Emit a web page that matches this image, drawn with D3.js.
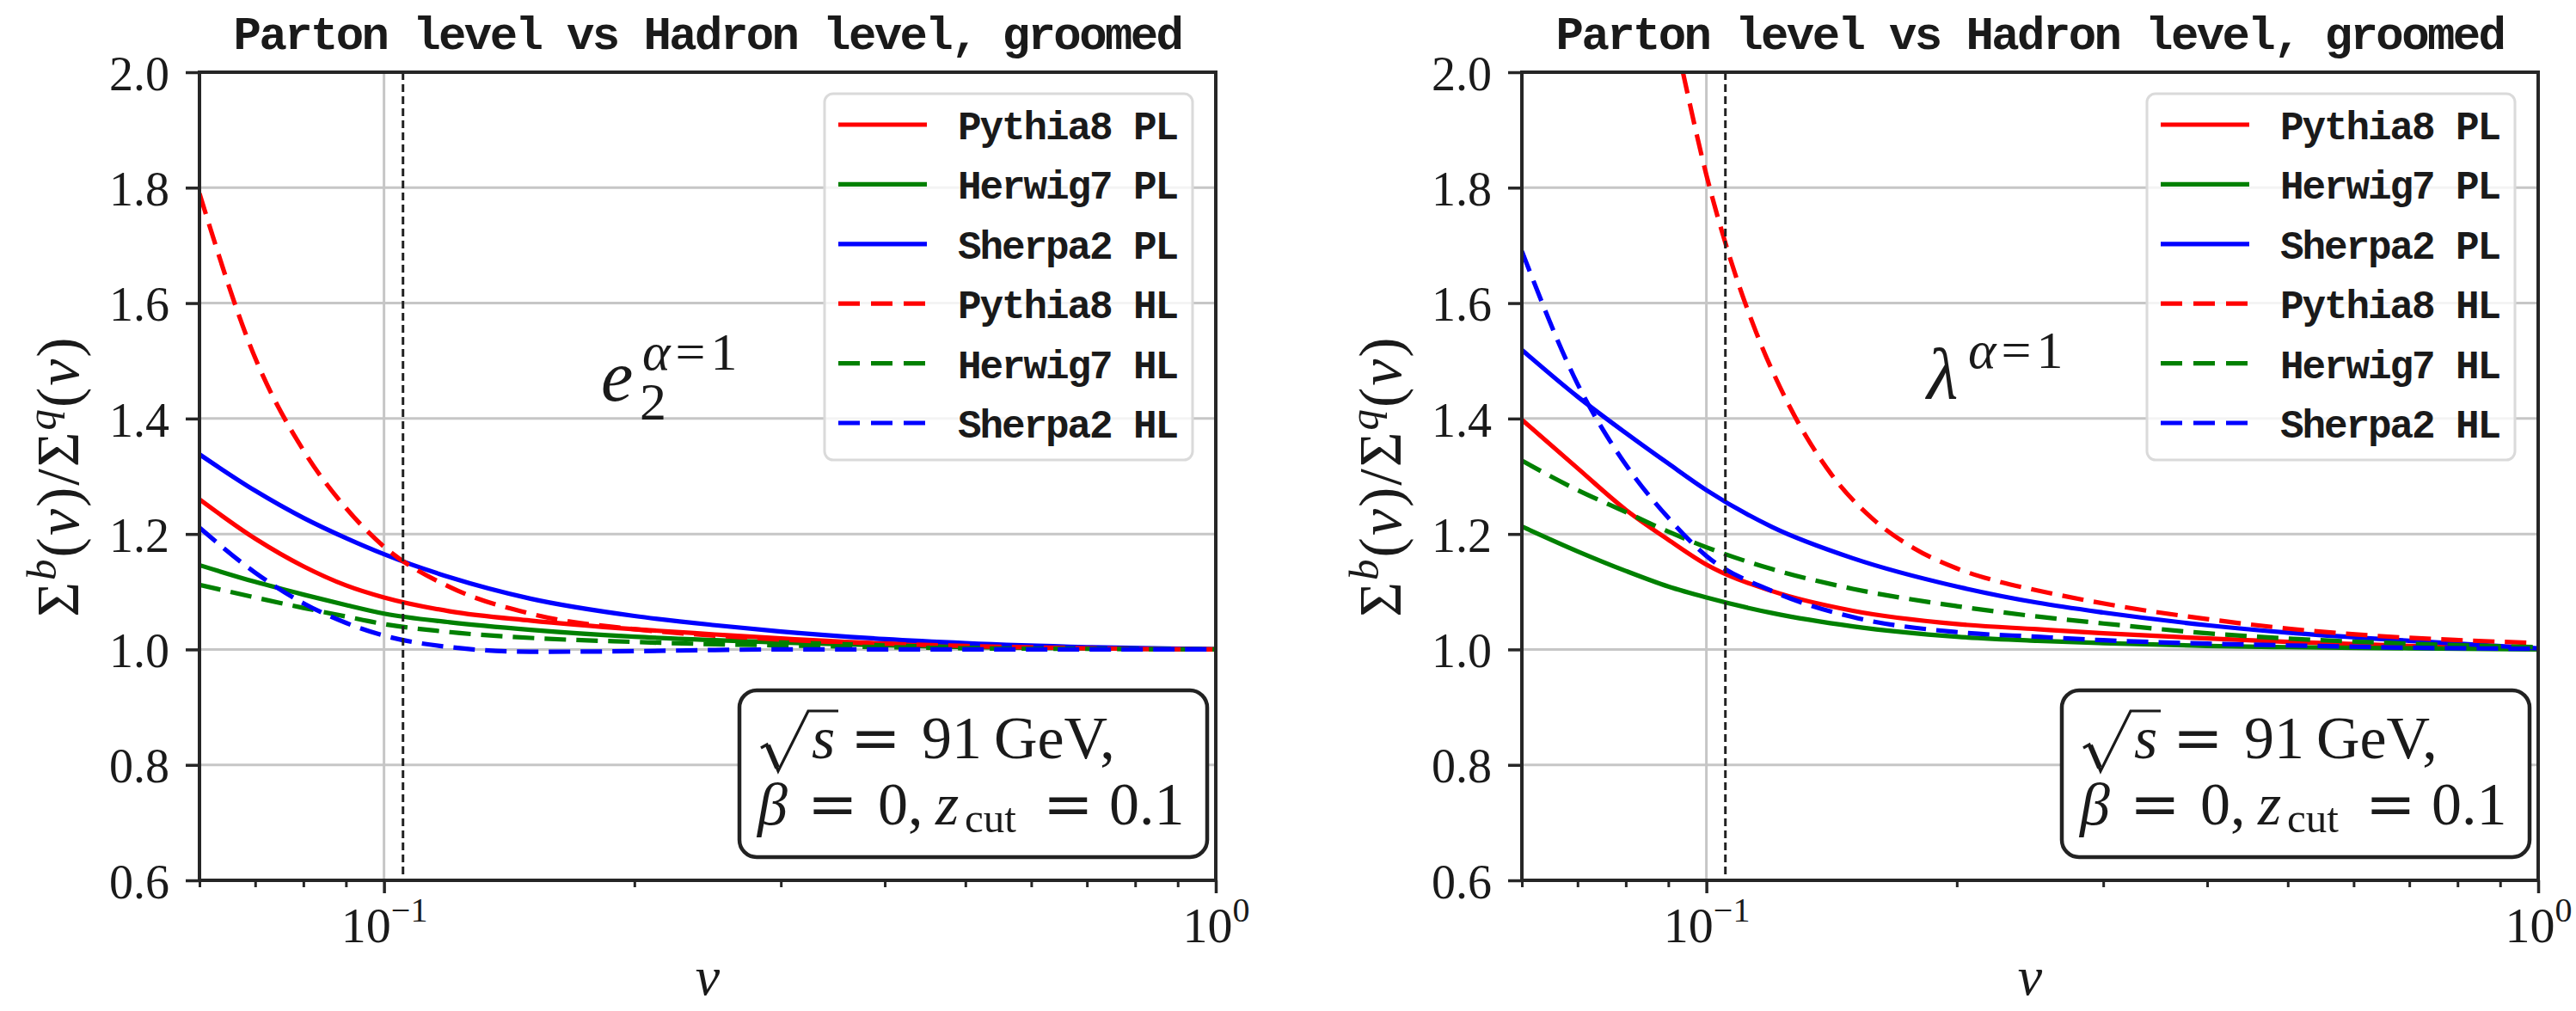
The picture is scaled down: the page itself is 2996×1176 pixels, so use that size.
<!DOCTYPE html>
<html>
<head>
<meta charset="utf-8">
<title>Parton level vs Hadron level, groomed</title>
<script src="https://cdn.jsdelivr.net/npm/d3@7/dist/d3.min.js"></script>
<style>
  html, body { margin: 0; padding: 0; background: #ffffff; }
  svg { display: block; }
</style>
</head>
<body>
<svg id="fig" width="2996" height="1176"></svg>
<script>
// ---- data -------------------------------------------------------------
// sample points in v shared by most curves
const vSamples = [0.06, 0.07, 0.08, 0.09, 0.1, 0.12, 0.15, 0.2, 0.25, 0.3, 0.4, 0.5, 0.7, 1.0];

// e2^(alpha=1): ratio Sigma^b(v) / Sigma^q(v)
const e2Pythia8PL = [1.260, 1.192, 1.144, 1.111, 1.090, 1.066, 1.050, 1.035, 1.026, 1.019, 1.010, 1.006, 1.002, 1.000];
const e2Herwig7PL = [1.146, 1.117, 1.095, 1.077, 1.062, 1.047, 1.034, 1.022, 1.016, 1.012, 1.007, 1.004, 1.002, 1.000];
const e2Sherpa2PL = [1.338, 1.275, 1.228, 1.193, 1.165, 1.125, 1.088, 1.058, 1.042, 1.031, 1.018, 1.011, 1.004, 1.000];
const e2Pythia8HL = [1.790, 1.505, 1.345, 1.245, 1.178, 1.108, 1.062, 1.035, 1.024, 1.017, 1.010, 1.006, 1.002, 1.000];
const e2Herwig7HL = [1.112, 1.090, 1.072, 1.057, 1.044, 1.030, 1.020, 1.013, 1.009, 1.007, 1.004, 1.002, 1.001, 1.000];
const e2Sherpa2HL = [1.211, 1.133, 1.080, 1.046, 1.024, 1.004, 0.996, 0.997, 0.999, 1.000, 1.000, 1.000, 1.000, 1.000];

// lambda^(alpha=1)
const lamPythia8PL = [1.398, 1.314, 1.242, 1.190, 1.147, 1.101, 1.067, 1.044, 1.035, 1.028, 1.019, 1.013, 1.006, 1.001];
const lamHerwig7PL = [1.213, 1.170, 1.136, 1.109, 1.090, 1.063, 1.040, 1.022, 1.015, 1.011, 1.006, 1.004, 1.002, 1.000];
const lamSherpa2PL = [1.519, 1.438, 1.375, 1.322, 1.276, 1.212, 1.158, 1.109, 1.081, 1.064, 1.042, 1.029, 1.015, 1.002];
const lamPythia8HLv = [0.0937, 0.1, 0.1072, 0.1148, 0.1259, 0.1413, 0.1585, 0.1778, 0.1995, 0.2239, 0.2512, 0.3162, 0.3981, 0.5012, 0.631, 0.7943, 1.0];
const lamPythia8HL  = [2.000, 1.822, 1.670, 1.549, 1.421, 1.3035, 1.226, 1.175, 1.141, 1.118, 1.1015, 1.074, 1.053, 1.036, 1.024, 1.0165, 1.011];
const lamHerwig7HL = [1.327, 1.276, 1.238, 1.204, 1.177, 1.139, 1.105, 1.075, 1.057, 1.045, 1.028, 1.019, 1.010, 1.004];
const lamSherpa2HL = [1.690, 1.460, 1.320, 1.228, 1.162, 1.101, 1.056, 1.030, 1.022, 1.016, 1.010, 1.007, 1.003, 1.001];

const seriesNames  = ["Pythia8 PL", "Herwig7 PL", "Sherpa2 PL", "Pythia8 HL", "Herwig7 HL", "Sherpa2 HL"];
const seriesColors = ["#ff0000", "#008000", "#0000ff", "#ff0000", "#008000", "#0000ff"];
const seriesDashed = [false, false, false, true, true, true];

const yTicks      = [0.6, 0.8, 1.0, 1.2, 1.4, 1.6, 1.8, 2.0];
const xMajorTicks = [0.1, 1];
const xMinorTicks = [0.06, 0.07, 0.08, 0.09, 0.2, 0.3, 0.4, 0.5, 0.6, 0.7, 0.8, 0.9];
const xDomain = [0.06, 1];
const yDomain = [0.6, 2.0];
const vCutLine = 0.1054;
const titleText = "Parton level vs Hadron level, groomed";

// ---- layout ---------------------------------------------------------------
const plotTop = 84, plotBottom = 1024;
const SERIF = '"Liberation Serif", "Times New Roman", serif';
const MONO = '"Liberation Mono", "Courier New", monospace';
const EQ = '"DejaVu Serif", serif';
const ink = "#1a1a1a";

const panels = [
  {
    key: "e2", x0: 232, x1: 1414, obs: "e",
    curves: [
      { v: vSamples, y: e2Pythia8PL }, { v: vSamples, y: e2Herwig7PL }, { v: vSamples, y: e2Sherpa2PL },
      { v: vSamples, y: e2Pythia8HL }, { v: vSamples, y: e2Herwig7HL }, { v: vSamples, y: e2Sherpa2HL }
    ]
  },
  {
    key: "lam", x0: 1770, x1: 2952, obs: "\u03BB",
    curves: [
      { v: vSamples, y: lamPythia8PL }, { v: vSamples, y: lamHerwig7PL }, { v: vSamples, y: lamSherpa2PL },
      { v: lamPythia8HLv, y: lamPythia8HL }, { v: vSamples, y: lamHerwig7HL }, { v: vSamples, y: lamSherpa2HL }
    ]
  }
];

const svg = d3.select("#fig");
const defs = svg.append("defs");

function serifText(sel, size) {
  return sel.style("font-family", SERIF).attr("font-size", size).attr("fill", ink);
}

panels.forEach(p => {
  const x = d3.scaleLog().domain(xDomain).range([p.x0, p.x1]);
  const y = d3.scaleLinear().domain(yDomain).range([plotBottom, plotTop]);
  const g = svg.append("g").attr("class", "panel-" + p.key);
  const cx = (p.x0 + p.x1) / 2;

  const clipId = "clip-" + p.key;
  defs.append("clipPath").attr("id", clipId)
    .append("rect")
    .attr("x", p.x0).attr("y", plotTop)
    .attr("width", p.x1 - p.x0).attr("height", plotBottom - plotTop);

  // grid
  g.append("g").selectAll("line").data(yTicks).join("line")
    .attr("x1", p.x0).attr("x2", p.x1)
    .attr("y1", d => y(d)).attr("y2", d => y(d))
    .attr("stroke", "#c6c6c6").attr("stroke-width", 3);
  g.append("g").selectAll("line").data(xMajorTicks).join("line")
    .attr("x1", d => x(d)).attr("x2", d => x(d))
    .attr("y1", plotTop).attr("y2", plotBottom)
    .attr("stroke", "#c6c6c6").attr("stroke-width", 3);

  // curves
  const line = d3.line().x(d => x(d[0])).y(d => y(d[1])).curve(d3.curveMonotoneX);
  const curveG = g.append("g").attr("clip-path", `url(#${clipId})`);
  p.curves.forEach((c, i) => {
    curveG.append("path")
      .datum(c.v.map((v, j) => [v, c.y[j]]))
      .attr("d", line)
      .attr("fill", "none")
      .attr("stroke", seriesColors[i])
      .attr("stroke-width", 5.2)
      .attr("stroke-dasharray", seriesDashed[i] ? "25,12" : null);
  });

  // grooming transition marker
  g.append("line")
    .attr("x1", x(vCutLine)).attr("x2", x(vCutLine))
    .attr("y1", plotTop).attr("y2", plotBottom)
    .attr("stroke", "#222").attr("stroke-width", 3)
    .attr("stroke-dasharray", "9,5");

  // frame
  g.append("rect")
    .attr("x", p.x0).attr("y", plotTop)
    .attr("width", p.x1 - p.x0).attr("height", plotBottom - plotTop)
    .attr("fill", "none").attr("stroke", "#262626").attr("stroke-width", 4);

  // y axis
  const yAxis = d3.axisLeft(y).tickValues(yTicks).tickFormat(d3.format(".1f")).tickSize(16).tickPadding(19);
  const yg = g.append("g").attr("transform", `translate(${p.x0},0)`).call(yAxis);
  yg.select(".domain").remove();
  yg.selectAll(".tick line").attr("stroke", "#262626").attr("stroke-width", 3.5);
  serifText(yg.selectAll(".tick text"), 56).attr("dy", "0.36em");

  // x axis: major ticks with 10^n labels
  const xAxis = d3.axisBottom(x).tickValues(xMajorTicks).tickSize(15);
  const xg = g.append("g").attr("transform", `translate(0,${plotBottom})`).call(xAxis);
  xg.select(".domain").remove();
  xg.selectAll(".tick line").attr("stroke", "#262626").attr("stroke-width", 3.5);
  xg.selectAll(".tick text").each(function (d) {
    const t = d3.select(this);
    const e = Math.round(Math.log10(d));
    t.text(null).attr("y", 72).attr("dy", null);
    serifText(t, 58);
    t.append("tspan").text("10");
    t.append("tspan").attr("font-size", 40).attr("dy", -24).text(e < 0 ? "\u2212" + (-e) : String(e));
  });
  // minor ticks
  const xMinor = d3.axisBottom(x).tickValues(xMinorTicks).tickSize(8).tickFormat("");
  const xm = g.append("g").attr("transform", `translate(0,${plotBottom})`).call(xMinor);
  xm.select(".domain").remove();
  xm.selectAll(".tick line").attr("stroke", "#262626").attr("stroke-width", 3);

  // axis labels
  serifText(g.append("text"), 64).attr("font-style", "italic")
    .attr("text-anchor", "middle").attr("x", cx).attr("y", 1157).text("v");

  const yl = serifText(g.append("text"), 70)
    .attr("text-anchor", "middle").attr("letter-spacing", 2)
    .attr("transform", `translate(${p.x0 - 141},554) rotate(-90)`);
  yl.append("tspan").text("\u03A3");
  yl.append("tspan").attr("font-size", 49).attr("font-style", "italic").attr("dy", -26).text("b");
  yl.append("tspan").attr("dy", 26).text("(");
  yl.append("tspan").attr("font-style", "italic").text("v");
  yl.append("tspan").text(")/\u03A3");
  yl.append("tspan").attr("font-size", 49).attr("font-style", "italic").attr("dy", -26).text("q");
  yl.append("tspan").attr("dy", 26).text("(");
  yl.append("tspan").attr("font-style", "italic").text("v");
  yl.append("tspan").text(")");

  // title
  g.append("text").style("font-family", MONO).attr("font-weight", "bold")
    .attr("font-size", 54).attr("letter-spacing", -2.6)
    .attr("fill", ink).attr("text-anchor", "middle")
    .attr("x", cx).attr("y", 57).text(titleText);

  // observable annotation
  const ann = serifText(g.append("text"), 84);
  const supSize = 62;
  if (p.obs === "e") {
    ann.append("tspan").attr("x", p.x0 + 467).attr("y", 466).attr("font-style", "italic").text("e");
    ann.append("tspan").attr("x", p.x0 + 512).attr("y", 488).attr("font-size", supSize).text("2");
    ann.append("tspan").attr("x", p.x0 + 515).attr("y", 430).attr("font-size", supSize).attr("font-style", "italic").text("\u03B1");
  } else {
    ann.append("tspan").attr("x", p.x0 + 471).attr("y", 463).attr("font-style", "italic").text("\u03BB");
    ann.append("tspan").attr("x", p.x0 + 519).attr("y", 428).attr("font-size", supSize).attr("font-style", "italic").text("\u03B1");
  }
  ann.append("tspan").attr("dx", 6).attr("font-size", supSize).text("=");
  ann.append("tspan").attr("dx", 6).attr("font-size", supSize).text("1");

  // legend
  const lg = g.append("g").attr("transform", `translate(${p.x0 + 727},109)`);
  lg.append("rect").attr("width", 428).attr("height", 426).attr("rx", 10)
    .attr("fill", "#ffffff").attr("fill-opacity", 0.8)
    .attr("stroke", "#dadada").attr("stroke-width", 3);
  seriesNames.forEach((name, i) => {
    const ry = 36 + i * 69.4;
    lg.append("line").attr("x1", 16).attr("x2", 119).attr("y1", ry).attr("y2", ry)
      .attr("stroke", seriesColors[i]).attr("stroke-width", 5.2)
      .attr("stroke-dasharray", seriesDashed[i] ? "25,13" : null);
    lg.append("text").style("font-family", MONO).attr("font-weight", "bold")
      .attr("font-size", 46).attr("letter-spacing", -2.1)
      .attr("fill", ink).attr("x", 155).attr("y", ry + 17).text(name);
  });

  // parameter box
  const bx = p.x0 + 628, by = 803;
  const tb = g.append("g");
  tb.append("rect").attr("x", bx).attr("y", by).attr("width", 544).attr("height", 194).attr("rx", 20)
    .attr("fill", "#ffffff").attr("stroke", "#222").attr("stroke-width", 4.5);
  const X = bx + 25, B1 = 882, B2 = 959, fs = 70;
  // radical sign over s
  tb.append("path")
    .attr("d", `M${X},${B1 - 12} L${X + 7},${B1 - 16} L${X + 20},${B1 + 15} L${X + 55},${B1 - 55} L${X + 90},${B1 - 55}`)
    .attr("fill", "none").attr("stroke", ink).attr("stroke-width", 3.2).attr("stroke-linejoin", "miter");
  tb.append("path")
    .attr("d", `M${X + 8},${B1 - 15} L${X + 19},${B1 + 11}`)
    .attr("fill", "none").attr("stroke", ink).attr("stroke-width", 6);

  const l1 = serifText(tb.append("text"), fs).attr("y", B1);
  l1.append("tspan").attr("x", X + 59).attr("font-style", "italic").text("s");
  l1.append("tspan").attr("x", X + 104).style("font-family", EQ).text("=");
  l1.append("tspan").attr("x", X + 187).text("91");
  l1.append("tspan").attr("x", X + 271).text("GeV,");

  const l2 = serifText(tb.append("text"), fs).attr("y", B2);
  l2.append("tspan").attr("x", X - 4).attr("y", B2).attr("font-style", "italic").text("\u03B2");
  l2.append("tspan").attr("x", X + 54).attr("y", B2).style("font-family", EQ).text("=");
  l2.append("tspan").attr("x", X + 136).attr("y", B2).text("0,");
  l2.append("tspan").attr("x", X + 203).attr("y", B2).attr("font-style", "italic").text("z");
  l2.append("tspan").attr("x", X + 237).attr("y", B2 + 9).attr("font-size", 49).text("cut");
  l2.append("tspan").attr("x", X + 328).attr("y", B2).style("font-family", EQ).text("=");
  l2.append("tspan").attr("x", X + 405).attr("y", B2).text("0.1");
});
</script>
</body>
</html>
